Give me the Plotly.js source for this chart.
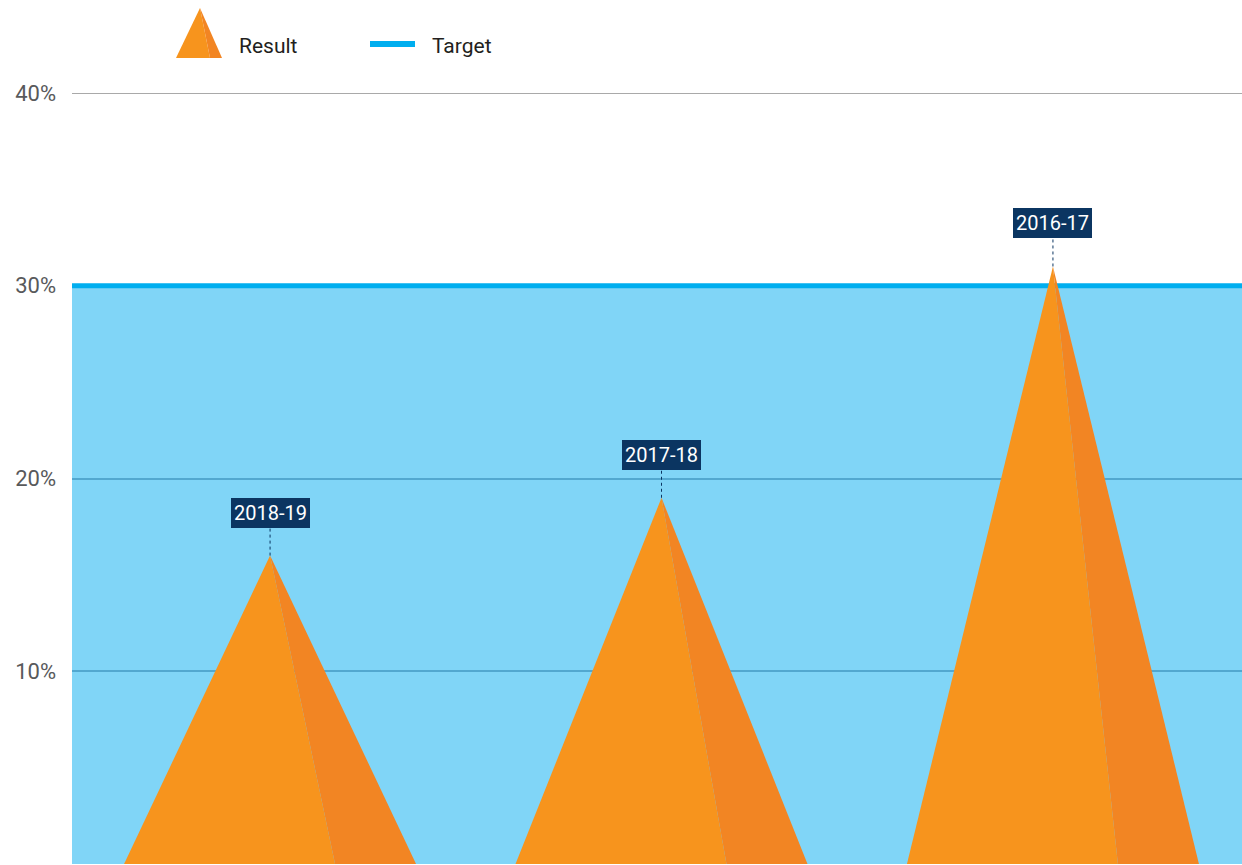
<!DOCTYPE html>
<html>
<head>
<meta charset="utf-8">
<script src="https://cdn.plot.ly/plotly-3.0.1.min.js"></script>
<style>html,body{margin:0;padding:0;background:#fff;}#chart{width:1242px;height:865px;}</style>
</head>
<body>
<div id="chart"></div>
<script>
// ---- data ----
const categories = ["2018-19", "2017-18", "2016-17"];
const resultValues = [16, 19, 31];
const targetValue = [30];
const tickValues = [10, 20, 30, 40];
const tickLabels = ["10%", "20%", "30%", "40%"];
const legendLabels = ["Result", "Target"];

// ---- style ----
const FONT = '"Liberation Sans Narrow", "Roboto", "Liberation Sans", sans-serif';
const LIGHT_OR = '#f7941d';
const DARK_OR = '#f28523';
const BLUE_FILL = '#80d5f7';
const BLUE_LINE = '#00aeef';
const NAVY = '#0b3561';
const HALF = 0.373;   // triangle half-width (category units)
const SPLIT = 0.166;  // split point offset

const xpos = categories.map((c, i) => i);
const xRange = [-0.506, 2.483];

const traces = [];
// target line
traces.push({
  x: xRange, y: [targetValue[0], targetValue[0]],
  mode: 'lines', line: {color: BLUE_LINE, width: 5},
  hoverinfo: 'skip', showlegend: false
});
// triangles
xpos.forEach((c, i) => {
  const v = resultValues[i];
  traces.push({
    x: [c - HALF, c, c + SPLIT, c - HALF], y: [0, v, 0, 0],
    mode: 'lines', fill: 'toself', fillcolor: LIGHT_OR,
    line: {width: 0, color: LIGHT_OR}, hoverinfo: 'skip', showlegend: false
  });
  traces.push({
    x: [c, c + HALF, c + SPLIT, c], y: [v, 0, 0, v],
    mode: 'lines', fill: 'toself', fillcolor: DARK_OR,
    line: {width: 0, color: DARK_OR}, hoverinfo: 'skip', showlegend: false
  });
});

const L = 72, T = 93, B = 1, W = 1242, H = 865;
const pw = W - L, ph = H - T - B;
const px = x => (x - L) / pw;
const py = y => (H - B - y) / ph;

const shapes = [
  // blue band under target
  {type: 'rect', xref: 'paper', yref: 'y', x0: 0, x1: 1, y0: 0, y1: targetValue[0],
   fillcolor: BLUE_FILL, line: {width: 0}, layer: 'below'},
  // top 40% line
  {type: 'line', xref: 'paper', yref: 'y', x0: 0, x1: 1, y0: 40, y1: 40,
   line: {color: '#555555', width: 1}, layer: 'above'},
  // legend: triangle icon
  {type: 'path', xref: 'paper', yref: 'paper',
   path: `M ${px(176)} ${py(58)} L ${px(200)} ${py(8)} L ${px(210)} ${py(58)} Z`,
   fillcolor: LIGHT_OR, line: {width: 0}},
  {type: 'path', xref: 'paper', yref: 'paper',
   path: `M ${px(200)} ${py(8)} L ${px(222)} ${py(58)} L ${px(210)} ${py(58)} Z`,
   fillcolor: DARK_OR, line: {width: 0}},
  // legend: target line
  {type: 'line', xref: 'paper', yref: 'paper', x0: px(370), x1: px(415), y0: py(44), y1: py(44),
   line: {color: BLUE_LINE, width: 6}}
];
// dotted leaders
xpos.forEach((c, i) => {
  shapes.push({type: 'line', xref: 'x', yref: 'y', ysizemode: 'pixel', yanchor: resultValues[i],
    x0: c, x1: c, y0: 0, y1: 28, line: {color: NAVY, width: 1, dash: 'dot'}, layer: 'above'});
});

const annotations = [];
xpos.forEach((c, i) => {
  annotations.push({
    x: c, y: resultValues[i], xref: 'x', yref: 'y', text: categories[i],
    showarrow: false, yanchor: 'bottom', yshift: 28,
    bgcolor: NAVY, borderpad: 3, borderwidth: 0,
    font: {family: FONT, size: 20, color: '#ffffff'}
  });
});
annotations.push({x: px(237), y: py(46), xref: 'paper', yref: 'paper', text: legendLabels[0],
  showarrow: false, xanchor: 'left', yanchor: 'middle', font: {family: FONT, size: 21, color: '#231f20'}});
annotations.push({x: px(430), y: py(46), xref: 'paper', yref: 'paper', text: legendLabels[1],
  showarrow: false, xanchor: 'left', yanchor: 'middle', font: {family: FONT, size: 21, color: '#231f20'}});

const layout = {
  width: W, height: H,
  margin: {l: L, r: 0, t: T, b: B, pad: 0},
  paper_bgcolor: '#ffffff', plot_bgcolor: 'rgba(0,0,0,0)',
  showlegend: false,
  xaxis: {range: xRange, showgrid: false, zeroline: false, showticklabels: false, ticks: '', showline: false, fixedrange: true},
  yaxis: {range: [0, 40], tickvals: tickValues, ticktext: tickLabels, showgrid: true,
    gridcolor: '#52a8d0', gridwidth: 2, zeroline: false, showline: false, ticks: '',
    ticklabelstandoff: 15,
    tickfont: {family: FONT, size: 22, color: '#58595b'}, fixedrange: true},
  shapes: shapes,
  annotations: annotations,
  font: {family: FONT}
};

Plotly.newPlot('chart', traces, layout, {displayModeBar: false, staticPlot: true});
</script>
</body>
</html>
